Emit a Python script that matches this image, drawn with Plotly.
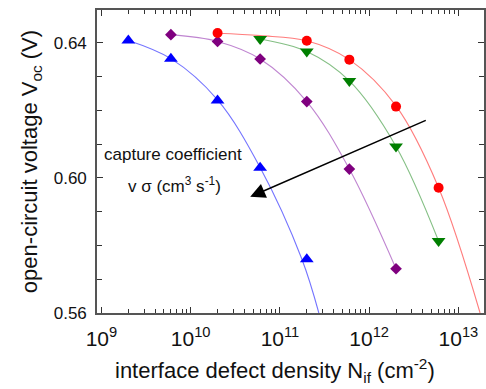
import plotly.graph_objects as go

# ---- data ----
blue_n = [2e9, 6e9, 2e10, 6e10, 2e11]
blue_v = [0.6407, 0.6353, 0.6229, 0.6030, 0.5759]
purple_n = [6e9, 2e10, 6e10, 2e11, 6e11, 2e12]
purple_v = [0.6424, 0.6404, 0.6352, 0.6226, 0.6026, 0.5731]
green_n = [6e10, 2e11, 6e11, 2e12, 6e12]
green_v = [0.6411, 0.6374, 0.6287, 0.6093, 0.5813]
red_n = [2e10, 2e11, 6e11, 2e12, 6e12]
red_v = [0.6429, 0.6406, 0.6350, 0.6211, 0.5971]

# fit curves (samples)
blue_fit_n = [2e9, 6e9, 2e10, 6e10, 1.76e11, 2.73e11]
blue_fit_v = [0.6407, 0.6353, 0.6231, 0.6031, 0.5760, 0.5600]
purple_fit_n = [6e9, 2e10, 6e10, 2e11, 6e11, 2e12]
purple_fit_v = [0.6424, 0.6404, 0.6352, 0.6226, 0.6026, 0.5731]
green_fit_n = [6e10, 2e11, 6e11, 2e12, 6e12]
green_fit_v = [0.6411, 0.6374, 0.6287, 0.6093, 0.5813]
red_fit_n = [2e10, 6e10, 2e11, 6e11, 2e12, 6e12, 1.75e13]
red_fit_v = [0.6428, 0.6421, 0.6406, 0.6350, 0.6213, 0.5971, 0.5600]

x_tick_vals = [1e9, 1e10, 1e11, 1e12, 1e13]
x_tick_text = ["10<sup>9</sup>", "10<sup>10</sup>", "10<sup>11</sup>", "10<sup>12</sup>", "10<sup>13</sup>"]
x_minor_vals = [m * 10 ** e for e in range(8, 14) for m in range(2, 10)]
y_tick_vals = [0.56, 0.60, 0.64]
y_tick_text = ["0.56", "0.60", "0.64"]

FONT = "Liberation Sans, Arial, sans-serif"

fig = go.Figure()

fits = [
    (blue_fit_n, blue_fit_v, "rgba(90,90,255,0.85)"),
    (purple_fit_n, purple_fit_v, "rgba(180,110,200,0.85)"),
    (green_fit_n, green_fit_v, "rgba(110,180,110,0.85)"),
    (red_fit_n, red_fit_v, "rgba(255,110,110,0.9)"),
]
for n, v, c in fits:
    fig.add_trace(go.Scatter(x=n, y=v, mode="lines", line=dict(color=c, width=1.1, shape="spline", smoothing=1.0),
                             hoverinfo="skip", showlegend=False, cliponaxis=True))

series = [
    (blue_n, blue_v, "#0000ff", "triangle-up", 12),
    (purple_n, purple_v, "#7f007f", "diamond", 9),
    (green_n, green_v, "#007f00", "triangle-down", 12),
    (red_n, red_v, "#ff0000", "circle", 10),
]
for n, v, c, s, sz in series:
    fig.add_trace(go.Scatter(x=n, y=v, mode="markers", marker=dict(color=c, symbol=s, size=sz, line=dict(width=0)),
                             showlegend=False))

# arrow
fig.add_annotation(x=10.667, y=0.5944, ax=12.651, ay=0.6172, xref="x", yref="y", axref="x", ayref="y",
                   showarrow=True, arrowhead=2, arrowsize=2.0, arrowwidth=1.5, arrowcolor="black", text="")
fig.add_annotation(x=9.803, y=0.6068, xref="x", yref="y", text="capture coefficient", showarrow=False,
                   font=dict(family=FONT, size=17, color="#111"))
fig.add_annotation(x=9.82, y=0.5979, xref="x", yref="y", text="v σ (cm<sup>3</sup> s<sup>-1</sup>)", showarrow=False,
                   font=dict(family=FONT, size=17, color="#111"))
# x-axis title (placed as annotation to match horizontal position)
fig.add_annotation(x=0.46, y=-0.19, xref="paper", yref="paper", xanchor="center", yanchor="middle",
                   text="interface defect density N<sub>if</sub> (cm<sup>-2</sup>)", showarrow=False,
                   font=dict(family=FONT, size=22, color="#111"))

fig.update_xaxes(type="log", range=[8.95, 13.287], tickmode="array", tickvals=x_tick_vals, ticktext=x_tick_text,
                 ticks="inside", ticklen=6, tickwidth=1.2, tickcolor="#333",
                 minor=dict(tickmode="array", tickvals=x_minor_vals, ticks="inside", ticklen=4, tickwidth=1, tickcolor="#333"),
                 showline=True, linecolor="#555", linewidth=1.6, mirror="allticks", showgrid=False, zeroline=False,
                 tickfont=dict(family=FONT, size=21, color="#111"), ticklabelstandoff=6)
fig.update_yaxes(range=[0.56, 0.6497], tickmode="array", tickvals=y_tick_vals, ticktext=y_tick_text,
                 ticks="inside", ticklen=6, tickwidth=1.2, tickcolor="#333",
                 minor=dict(dtick=0.01, tick0=0.56, ticks="inside", ticklen=5, tickwidth=1, tickcolor="#333"),
                 showline=True, linecolor="#555", linewidth=1.6, mirror="allticks", showgrid=False, zeroline=False,
                 tickfont=dict(family=FONT, size=17, color="#111"), ticklabelstandoff=5,
                 title=dict(text="open-circuit voltage V<sub>oc</sub> (V)",
                            font=dict(family=FONT, size=22, color="#111"), standoff=10))

fig.update_layout(width=486, height=389, margin=dict(l=97, r=0, t=10, b=76),
                  plot_bgcolor="white", paper_bgcolor="white")

fig.write_html("out.html")
